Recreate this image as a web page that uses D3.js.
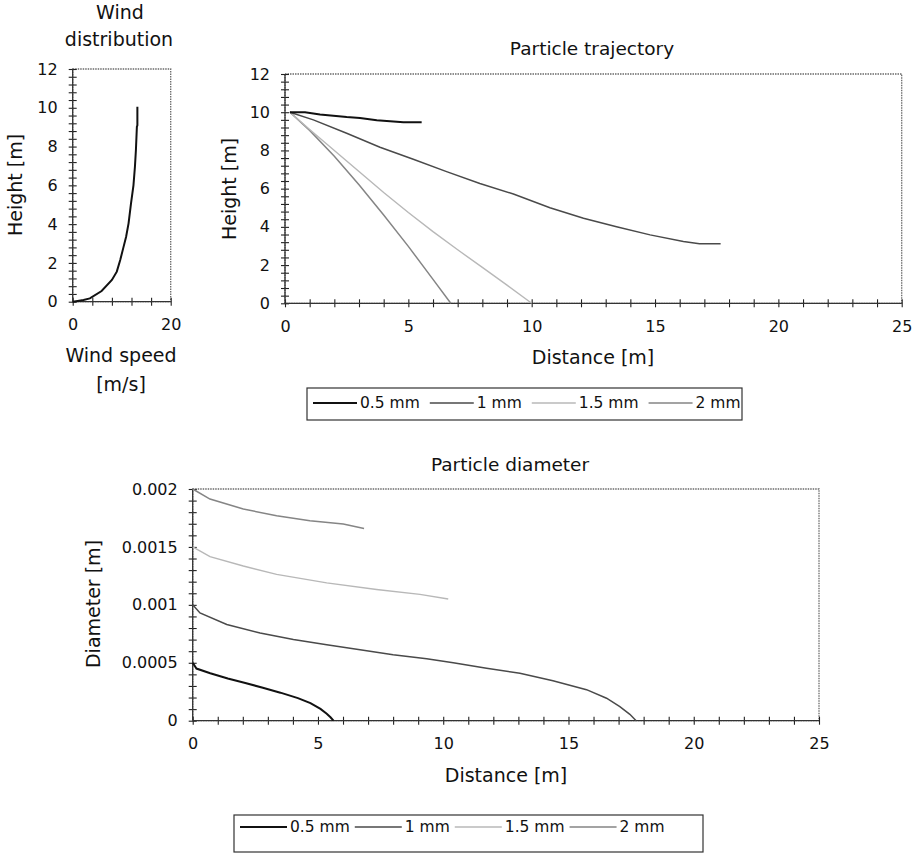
<!DOCTYPE html>
<html><head><meta charset="utf-8">
<script src="https://cdn.jsdelivr.net/npm/d3@7"></script>
<style>
body{margin:0;background:#fff;}
svg{display:block;font-family:"DejaVu Sans",sans-serif;}
</style></head><body>
<svg id="c" width="915" height="858"></svg>
<script>
// ---------- DATA ----------
const windSpeed  = [0, 1.0, 2.2, 3.5, 5.9, 8.0, 9.0, 9.7, 10.3, 10.9, 11.4, 11.9, 12.4, 12.7, 12.9, 13.1, 13.2, 13.2];
const windHeight = [0, 0.04, 0.09, 0.17, 0.55, 1.12, 1.55, 2.15, 2.75, 3.35, 4.04, 5.07, 6.0, 6.96, 7.82, 9.02, 9.1, 10.05];

const seriesNames = ["0.5 mm", "1 mm", "1.5 mm", "2 mm"];

const traj05x = [0.2, 0.81, 1.42, 1.96, 2.5, 3.04, 3.72, 4.8, 5.54];
const traj05y = [10, 10, 9.88, 9.82, 9.75, 9.70, 9.58, 9.47, 9.47];
const traj1x  = [0.2, 1.15, 2.5, 3.85, 5.2, 6.55, 7.9, 9.26, 10.74, 12.1, 13.44, 14.8, 16.15, 16.8, 17.66];
const traj1y  = [10, 9.6, 8.9, 8.17, 7.54, 6.89, 6.27, 5.72, 5.0, 4.45, 4.01, 3.58, 3.23, 3.12, 3.12];
const traj15x = [0.2, 1, 2, 3, 4, 5, 6, 7, 8, 9, 10];
const traj15y = [10, 9.1, 8.0, 6.9, 5.8, 4.75, 3.75, 2.8, 1.88, 0.95, 0];
const traj2x  = [0.2, 1, 2, 3, 4, 5, 6, 6.72];
const traj2y  = [10, 9.05, 7.7, 6.2, 4.62, 2.98, 1.25, 0];

const diam05x = [0, 0.15, 0.7, 1.4, 2.1, 2.8, 3.5, 4.2, 4.7, 5.1, 5.35, 5.5, 5.62];
const diam05y = [0.0005, 0.00045, 0.00041, 0.000365, 0.000325, 0.000285, 0.000242, 0.000195, 0.000152, 0.000102, 0.00006, 0.00003, 0];
const diam1x  = [0, 0.29, 1.36, 2.69, 4.02, 5.35, 6.68, 8.0, 9.34, 10.4, 11.73, 13.06, 14.38, 15.72, 16.52, 17.05, 17.45, 17.7];
const diam1y  = [0.001, 0.00093, 0.00083, 0.000757, 0.0007, 0.000656, 0.000613, 0.000569, 0.000535, 0.0005, 0.000452, 0.000409, 0.000345, 0.000268, 0.000194, 0.000122, 0.000055, 0];
const diam15x = [0, 0.69, 2.02, 3.35, 5.35, 7.34, 9.07, 10.2];
const diam15y = [0.0015, 0.001416, 0.001335, 0.001263, 0.00119, 0.001133, 0.00109, 0.00105];
const diam2x  = [0, 0.69, 2.02, 3.35, 4.68, 6.01, 6.84];
const diam2y  = [0.002, 0.001913, 0.001827, 0.001769, 0.001725, 0.001697, 0.001659];

const windXTicks = [0, 20];
const windYTicks = [0, 2, 4, 6, 8, 10, 12];
const distTicks  = [0, 5, 10, 15, 20, 25];
const heightTicks = [0, 2, 4, 6, 8, 10, 12];
const diamTicks  = [0, 0.0005, 0.001, 0.0015, 0.002];

// ---------- STYLE ----------
const seriesStyle = [
  {color:"#111", width:2},
  {color:"#4a4a4a", width:1.5},
  {color:"#b8b8b8", width:1.4},
  {color:"#858585", width:1.5}
];

const svg = d3.select("#c");
const zip = (xs, ys) => xs.map((x,i)=>[x, ys[i]]);

function panel(x, y, minorX, minorY) {
  const g = svg.append("g");
  const [x0,x1] = x.range(), [y0,y1] = y.range();
  g.append("rect").attr("x", x0).attr("y", y1).attr("width", x1-x0).attr("height", y0-y1)
    .attr("fill","none").attr("stroke","#6a6a6a").attr("stroke-width",1.3).attr("stroke-dasharray","1.5,1");
  const mx = g.append("g").attr("transform",`translate(0,${y0})`)
    .call(d3.axisBottom(x).tickValues(minorX).tickSize(4).tickFormat(""));
  mx.select(".domain").remove();
  mx.selectAll("line").attr("y1",-4).attr("y2",4).attr("stroke","#222").attr("stroke-width",1.1);
  const my = g.append("g").attr("transform",`translate(${x0},0)`)
    .call(d3.axisLeft(y).tickValues(minorY).tickSize(4).tickFormat(""));
  my.select(".domain").remove();
  my.selectAll("line").attr("x1",-4).attr("x2",4).attr("stroke","#222").attr("stroke-width",1.1);
  g.append("line").attr("x1",x0).attr("x2",x1).attr("y1",y0).attr("y2",y0).attr("stroke","#333").attr("stroke-width",1.3);
  g.append("line").attr("x1",x0).attr("x2",x0).attr("y1",y0).attr("y2",y1).attr("stroke","#333").attr("stroke-width",1.3);
  return g;
}
function majorLabels(g, x, y, xt, yt, yFmt) {
  const [x0] = x.range(), [y0] = y.range();
  const ax = g.append("g").attr("transform",`translate(0,${y0})`)
    .call(d3.axisBottom(x).tickValues(xt).tickSize(0).tickFormat(d3.format("d")));
  ax.select(".domain").remove();
  ax.selectAll("text").attr("y",17).attr("dy","0.71em").attr("font-size",16).attr("fill","#111").attr("font-family","DejaVu Sans");
  const ay = g.append("g").attr("transform",`translate(${x0},0)`)
    .call(d3.axisLeft(y).tickValues(yt).tickSize(0).tickFormat(yFmt));
  ay.select(".domain").remove();
  ay.selectAll("text").attr("x",-15).attr("font-size",16).attr("fill","#111").attr("font-family","DejaVu Sans");
}
function text(t, x, y, size, rot) {
  const el = svg.append("text").attr("font-size",size).attr("fill","#111").attr("text-anchor","middle").text(t);
  if (rot) el.attr("transform",`translate(${x},${y}) rotate(-90)`);
  else el.attr("x",x).attr("y",y);
  return el;
}

// ---------- WIND PANEL ----------
const wx = d3.scaleLinear().domain([0,20]).range([72.7,170.7]);
const wy = d3.scaleLinear().domain([0,12]).range([301.7,69]);
const gw = panel(wx, wy, d3.range(0,20.001,4), d3.range(0,12.001,0.4));
majorLabels(gw, wx, wy, windXTicks, windYTicks, d3.format("d"));
gw.append("path").datum(zip(windSpeed, windHeight))
  .attr("d", d3.line().x(d=>wx(d[0])).y(d=>wy(d[1])))
  .attr("fill","none").attr("stroke","#111").attr("stroke-width",2);
text("Wind", 120, 19, 19);
text("distribution", 119, 46, 19);
text("Height [m]", 22, 185, 19, true);
text("Wind speed", 121, 362, 19);
text("[m/s]", 121, 391, 19);

// ---------- TRAJECTORY PANEL ----------
const tx = d3.scaleLinear().domain([0,25]).range([285,901.7]);
const ty = d3.scaleLinear().domain([0,12]).range([303.3,74]);
const gt = panel(tx, ty, d3.range(0,25.001,1), d3.range(0,12.001,0.4));
majorLabels(gt, tx, ty, distTicks, heightTicks, d3.format("d"));
const trajSeries = [zip(traj05x,traj05y), zip(traj1x,traj1y), zip(traj15x,traj15y), zip(traj2x,traj2y)];
const tline = d3.line().x(d=>tx(d[0])).y(d=>ty(d[1]));
[3,2,1,0].forEach(i=>{
  gt.append("path").datum(trajSeries[i]).attr("d", tline)
    .attr("fill","none").attr("stroke",seriesStyle[i].color).attr("stroke-width",seriesStyle[i].width);
});
text("Particle trajectory", 592, 55, 18.5);
text("Height [m]", 236, 189, 19, true);
text("Distance [m]", 593, 364, 19);

// ---------- DIAMETER PANEL ----------
const dx = d3.scaleLinear().domain([0,25]).range([192.7,819]);
const dy = d3.scaleLinear().domain([0,0.002]).range([720.7,489]);
const gd = panel(dx, dy, d3.range(0,25.001,1), d3.range(0,0.0020001,0.0001));
majorLabels(gd, dx, dy, distTicks, diamTicks, d=> d===0 ? "0" : d3.format("~g")(d));
const diamSeries = [zip(diam05x,diam05y), zip(diam1x,diam1y), zip(diam15x,diam15y), zip(diam2x,diam2y)];
const dline = d3.line().x(d=>dx(d[0])).y(d=>dy(d[1]));
[3,2,1,0].forEach(i=>{
  gd.append("path").datum(diamSeries[i]).attr("d", dline)
    .attr("fill","none").attr("stroke",seriesStyle[i].color).attr("stroke-width",seriesStyle[i].width);
});
text("Particle diameter", 510, 471, 18.5);
text("Diameter [m]", 100, 604, 19, true);
text("Distance [m]", 506, 782, 19);

// ---------- LEGENDS ----------
function legend(bx, by, bw, bh, lineLen, gap, baseline) {
  const g = svg.append("g");
  g.append("rect").attr("x",bx).attr("y",by).attr("width",bw).attr("height",bh)
    .attr("fill","#fff").attr("stroke","#333").attr("stroke-width",1.2);
  let cx = bx + 6;
  seriesNames.forEach((n,i)=>{
    g.append("line").attr("x1",cx).attr("x2",cx+lineLen).attr("y1",baseline-5).attr("y2",baseline-5)
      .attr("stroke",seriesStyle[i].color).attr("stroke-width",seriesStyle[i].width);
    cx += lineLen + 3;
    const t = g.append("text").attr("x",cx).attr("y",baseline).attr("font-size",15.5).attr("fill","#111").text(n);
    cx += t.node().getComputedTextLength() + gap;
  });
}
legend(307, 388, 435, 32, 44, 10, 408);
legend(234, 815, 469, 37, 47, 5, 832);
</script>
</body></html>
